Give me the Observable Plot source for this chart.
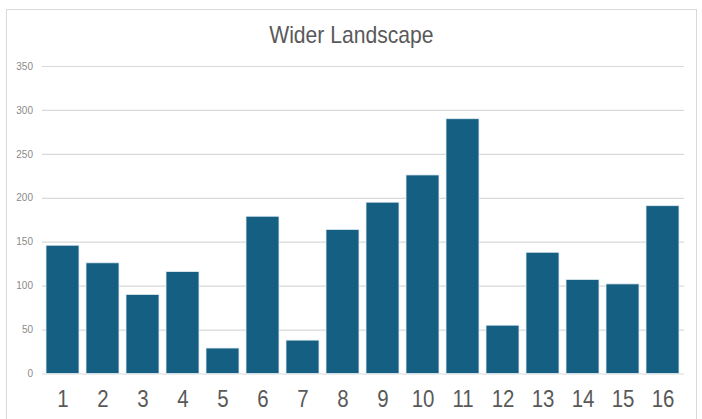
<!DOCTYPE html>
<html>
<head>
<meta charset="utf-8">
<script src="https://cdn.jsdelivr.net/npm/d3@7"></script>
<script src="https://cdn.jsdelivr.net/npm/@observablehq/plot@0.6"></script>
<style>
  html, body { margin: 0; padding: 0; background: #ffffff; width: 702px; height: 419px; overflow: hidden; }
  #frame { position: absolute; left: 6px; top: 9px; width: 691px; height: 430px; border: 1px solid #d9d9d9; box-sizing: border-box; }
  #title { position: absolute; left: 0; top: 20px; width: 702px; text-align: center; font-family: "Liberation Sans", Arial, sans-serif; font-size: 24px; color: #595959; line-height: 30px; }
  #title span { display: inline-block; transform: scaleX(0.88); transform-origin: center; }
  #chart { position: absolute; left: 0; top: 55px; }
</style>
</head>
<body>
<div id="frame"></div>
<div id="title"><span>Wider Landscape</span></div>
<div id="chart"></div>
<script>
const categories = ["1","2","3","4","5","6","7","8","9","10","11","12","13","14","15","16"];
const values = [146, 126, 90, 116, 29, 179, 38, 164, 195, 226, 290, 55, 138, 107, 102, 191];
const yTicks = [0, 50, 100, 150, 200, 250, 300, 350];

const data = categories.map((c, i) => ({category: c, value: values[i]}));

const chart = Plot.plot({
  width: 702,
  height: 364,
  marginLeft: 42,
  marginRight: 18,
  marginTop: 11,
  marginBottom: 45.5,
  style: {background: "transparent", overflow: "visible"},
  x: {domain: categories, paddingInner: 0.164, paddingOuter: 0.07, label: null},
  y: {domain: [0, 350], label: null},
  marks: [
    Plot.gridY(yTicks, {stroke: "#d9d9d9", strokeOpacity: 1, strokeWidth: 1.2}),
    Plot.barY(data, {x: "category", y: "value", fill: "#156082", stroke: "#e3edf2", strokeWidth: 0.8}),
    Plot.axisY(yTicks, {tickSize: 0, tickPadding: 9.5, fill: "#8a8a8a", fontSize: 10, fontFamily: "Liberation Sans, Arial, sans-serif", label: null}),
    Plot.axisX({tickSize: 0, tickPadding: 16.5, fill: "#595959", fontSize: 23.5, fontFamily: "Liberation Sans, Arial, sans-serif", label: null})
  ]
});
document.getElementById("chart").appendChild(chart);
// condense the x tick labels (narrow face not installed)
chart.querySelectorAll('g[aria-label^="x-axis"] text').forEach(t => {
  const tr = t.getAttribute("transform") || "";
  t.setAttribute("transform", tr + " scale(0.87,1)");
});
</script>
</body>
</html>
